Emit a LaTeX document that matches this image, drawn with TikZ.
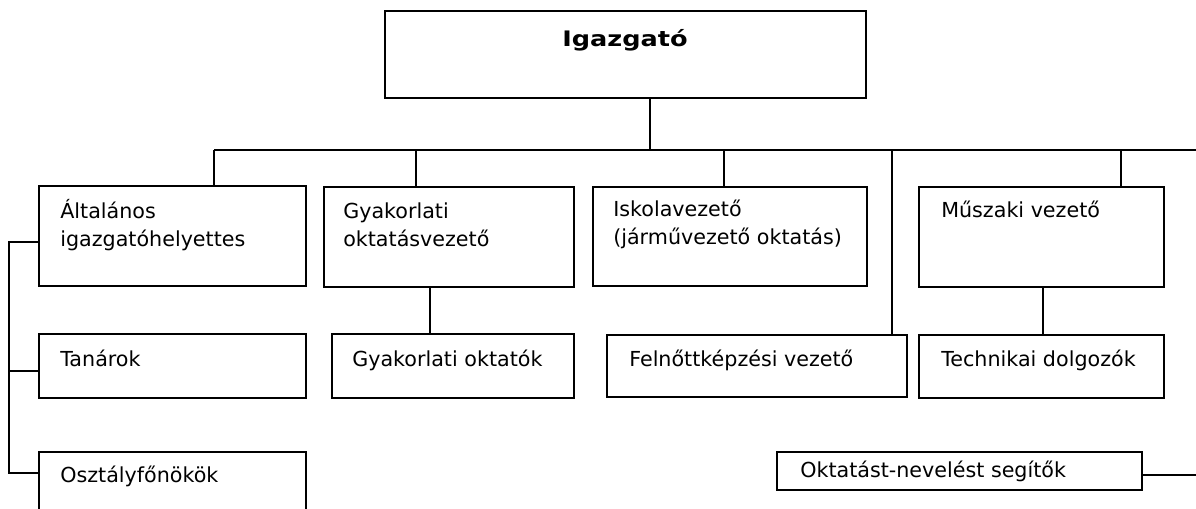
\documentclass[tikz,border=0pt]{standalone}
\usepackage{fontspec}
\setmainfont{DejaVu Sans}
\newfontfamily\igfont{DejaVu Sans}[FakeStretch=1.2]
\usetikzlibrary{calc}
\newlength\pxl
\setlength\pxl{0.75pt}
\begin{document}
\begin{tikzpicture}[x=0.75pt,y=-0.75pt,
  box/.style={draw,line width=1.5pt,rectangle,inner sep=0pt,outer sep=0pt,anchor=north west},
  lbl/.style={anchor=base west,inner sep=0pt,align=left,font=\fontsize{15.5}{21}\selectfont},
  conn/.style={line width=1.3pt}]
\useasboundingbox (0,0) rectangle (1196,509);
% boxes
\node[box,minimum width=481\pxl,minimum height=87\pxl] (top) at (385,11) {};
\node[box,minimum width=267\pxl,minimum height=100\pxl] (alt) at (39,186) {};
\node[box,minimum width=250\pxl,minimum height=100\pxl] (gyak) at (324,187) {};
\node[box,minimum width=274\pxl,minimum height=99\pxl] (isk) at (593,187) {};
\node[box,minimum width=245\pxl,minimum height=100\pxl] (musz) at (919,187) {};
\node[box,minimum width=267\pxl,minimum height=64\pxl] (tan) at (39,334) {};
\node[box,minimum width=242\pxl,minimum height=64\pxl] (gyo) at (332,334) {};
\node[box,minimum width=300\pxl,minimum height=62\pxl] (feln) at (607,335) {};
\node[box,minimum width=245\pxl,minimum height=63\pxl] (tech) at (919,335) {};
\node[box,minimum width=267\pxl,minimum height=90\pxl] (oszt) at (39,452) {};
\node[box,minimum width=365\pxl,minimum height=38\pxl] (okt) at (777,452) {};
% texts
\node[anchor=base,inner sep=0pt,font=\igfont\fontsize{16}{21}\selectfont\bfseries] (tTop) at (625,47) {Igazgató};
\node[lbl] (tAlt) at (60,247) {Általános\\igazgatóhelyettes};
\node[lbl] (tGyak) at (343,247) {Gyakorlati\\oktatásvezető};
\node[lbl] (tIsk) at (613,245) {Iskolavezető\\(járművezető oktatás)};
\node[lbl] (tMusz) at (941,218) {Műszaki vezető};
\node[lbl] (tTan) at (60,367) {Tanárok};
\node[lbl] (tGyo) at (352,367) {Gyakorlati oktatók};
\node[lbl] (tFeln) at (629,367) {Felnőttképzési vezető};
\node[lbl] (tTech) at (941,367) {Technikai dolgozók};
\node[lbl] (tOszt) at (60,483) {Osztályfőnökök};
\node[lbl] (tOkt) at (800,477) {Oktatást-nevelést segítők};
% connectors
\coordinate (b0) at (650,150);
\coordinate (bL) at (214,150);
\coordinate (bR) at (1196,150);
\coordinate (d2) at (416,150);
\coordinate (d3) at (724,150);
\coordinate (d4) at (892,150);
\coordinate (d5) at (1121,150);
\coordinate (g1) at (430,0);
\coordinate (m1) at (1043,0);
\coordinate (s1) at (9,242);
\coordinate (s2) at (9,371);
\coordinate (s3) at (9,473);
\coordinate (oR) at (1196,475);
\draw[conn] (top.south -| b0) -- (b0);
\draw[conn] (bL) -- (bR);
\draw[conn] (bL) -- (bL |- alt.north);
\draw[conn] (d2) -- (d2 |- gyak.north);
\draw[conn] (d3) -- (d3 |- isk.north);
\draw[conn] (d4) -- (d4 |- feln.north);
\draw[conn] (d5) -- (d5 |- musz.north);
\draw[conn] (g1 |- gyak.south) -- (g1 |- gyo.north);
\draw[conn] (m1 |- musz.south) -- (m1 |- tech.north);
\draw[conn] (s1 -| alt.west) -- (s1) -- (s3) -- (s3 -| oszt.west);
\draw[conn] (s2) -- (s2 -| tan.west);
\draw[conn] (okt.east |- oR) -- (oR);
\end{tikzpicture}
\end{document}
